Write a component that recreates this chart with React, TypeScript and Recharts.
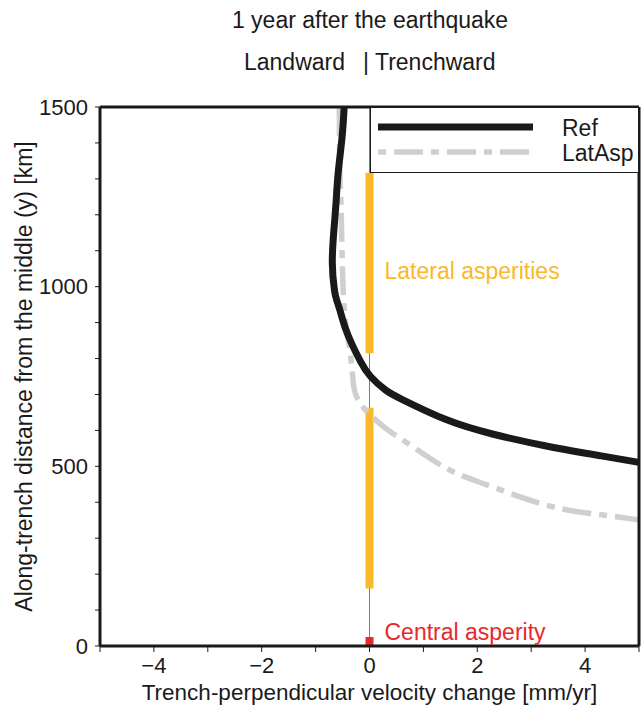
import {
  ComposedChart,
  Legend,
  Line,
  ReferenceDot,
  ReferenceLine,
  XAxis,
  YAxis,
} from "recharts";

// along-trench distance [km] and velocity change [mm/yr]
const refY = [1500, 1414, 1319, 1236, 1158, 1066, 990, 963, 935, 885, 838, 790, 750, 712, 685, 630, 590, 556, 529, 511];
const refV = [-0.47, -0.51, -0.58, -0.62, -0.66, -0.69, -0.65, -0.61, -0.55, -0.45, -0.32, -0.16, 0.02, 0.3, 0.62, 1.42, 2.28, 3.3, 4.3, 5.0];

const latY = [1500, 1319, 1236, 1102, 963, 885, 829, 780, 746, 707, 676, 645, 600, 565, 495, 450, 392, 365, 351];
const latV = [-0.56, -0.55, -0.53, -0.51, -0.48, -0.43, -0.37, -0.33, -0.31, -0.27, -0.17, 0.0, 0.35, 0.7, 1.42, 2.15, 3.28, 4.3, 5.0];

// asperity extents along the trench [km]
const lateralUpper = [815, 1317];
const lateralLower = [160, 663];
const central = [0, 25];

const xTicks = [-5, -4, -3, -2, -1, 0, 1, 2, 3, 4, 5];
const yTicks = [0, 100, 200, 300, 400, 500, 600, 700, 800, 900, 1000, 1100, 1200, 1300, 1400, 1500];
const yLabelled = [0, 500, 1000, 1500];

const refData = refY.map((y, i) => ({ y, v: refV[i] }));
const latData = latY.map((y, i) => ({ y, v: latV[i] }));

const INK = "#1a1a1a";
const ORANGE = "#fbb829";
const RED = "#e8282e";
const GREY = "#cfcfcf";
const DASH = "29 8 8 8";
const FONT = "'Liberation Sans', Arial, Helvetica, sans-serif";

const fmtX = (v: number) => (v % 2 !== 0 ? "" : v < 0 ? `\u2212${-v}` : `${v}`);
const fmtY = (v: number) => (yLabelled.includes(v) ? `${v}` : "");

const tickStyle = { fontSize: 22, fill: INK, fontFamily: FONT };
const axisLine = { stroke: INK, strokeWidth: 3 };
const tickLine = { stroke: INK, strokeWidth: 1 };

function LegendBox() {
  return (
    <div
      style={{
        width: 269,
        height: 66,
        boxSizing: "border-box",
        border: `1.5px solid ${INK}`,
        background: "#fff",
      }}
    >
      <svg width={266} height={63} style={{ display: "block" }}>
        <line x1={7} x2={162} y1={19} y2={19} stroke={INK} strokeWidth={7} />
        <line
          x1={7}
          x2={162}
          y1={44}
          y2={44}
          stroke={GREY}
          strokeWidth={5.5}
          strokeDasharray={DASH}
          strokeDashoffset={37}
        />
        <text x={191} y={28} fontSize={23} fill={INK} fontFamily={FONT}>
          Ref
        </text>
        <text x={191} y={53} fontSize={23} fill={INK} fontFamily={FONT}>
          LatAsp
        </text>
      </svg>
    </div>
  );
}

export default function App() {
  return (
    <div
      style={{
        position: "absolute",
        left: 0,
        top: 0,
        width: 643,
        height: 707,
        fontFamily: FONT,
        color: INK,
        background: "#fff",
      }}
    >
      <div
        style={{
          position: "absolute",
          left: 370,
          top: 9,
          transform: "translateX(-50%)",
          fontSize: 23,
          lineHeight: "23px",
          whiteSpace: "nowrap",
        }}
      >
        1 year after the earthquake
      </div>
      <div
        style={{
          position: "absolute",
          right: 643 - 345,
          top: 51,
          fontSize: 23,
          lineHeight: "23px",
          whiteSpace: "nowrap",
        }}
      >
        Landward
      </div>
      <div
        style={{
          position: "absolute",
          left: 363,
          top: 51,
          fontSize: 23,
          lineHeight: "23px",
          whiteSpace: "nowrap",
        }}
      >
        | Trenchward
      </div>
      <ComposedChart
        width={643}
        height={707}
        margin={{ top: 0, right: 0, bottom: 0, left: 0 }}
        style={{ fontFamily: FONT }}
      >
        <XAxis
          xAxisId="b"
          type="number"
          dataKey="v"
          domain={[-5, 5]}
          ticks={xTicks}
          tickFormatter={fmtX}
          height={61}
          tick={tickStyle}
          tickSize={6}
          tickMargin={5}
          axisLine={axisLine}
          tickLine={tickLine}
          interval={0}
          label={{
            value: "Trench-perpendicular velocity change [mm/yr]",
            position: "insideBottom",
            offset: 7,
            fontSize: 22.5,
            fill: INK,
          }}
        />
        <XAxis
          xAxisId="t"
          type="number"
          orientation="top"
          domain={[-5, 5]}
          ticks={xTicks}
          tickFormatter={fmtX}
          height={107}
          tick={tickStyle}
          tickSize={6}
          tickMargin={5}
          axisLine={axisLine}
          tickLine={tickLine}
          interval={0}
        />
        <YAxis
          yAxisId="l"
          type="number"
          domain={[0, 1500]}
          ticks={yTicks}
          tickFormatter={fmtY}
          width={100}
          tick={tickStyle}
          tickSize={5}
          tickMargin={7}
          axisLine={axisLine}
          tickLine={tickLine}
          interval={0}
          label={{
            value: "Along-trench distance from the middle (y) [km]",
            angle: -90,
            position: "insideLeft",
            offset: 24,
            fontSize: 23,
            fill: INK,
            style: { textAnchor: "middle" },
          }}
        />
        <YAxis
          yAxisId="r"
          type="number"
          orientation="right"
          domain={[0, 1500]}
          ticks={yTicks}
          tickFormatter={() => ""}
          width={4}
          tickSize={4}
          axisLine={axisLine}
          tickLine={tickLine}
          interval={0}
        />

        <ReferenceLine xAxisId="b" yAxisId="l" x={0} stroke="#7a7a7a" strokeWidth={1} />
        <ReferenceLine
          xAxisId="b"
          yAxisId="l"
          segment={[
            { x: 0, y: lateralUpper[0] },
            { x: 0, y: lateralUpper[1] },
          ]}
          stroke={ORANGE}
          strokeWidth={8}
        />
        <ReferenceLine
          xAxisId="b"
          yAxisId="l"
          segment={[
            { x: 0, y: lateralLower[0] },
            { x: 0, y: lateralLower[1] },
          ]}
          stroke={ORANGE}
          strokeWidth={8}
        />
        <ReferenceLine
          xAxisId="b"
          yAxisId="l"
          segment={[
            { x: 0, y: central[0] },
            { x: 0, y: central[1] },
          ]}
          stroke={RED}
          strokeWidth={8}
        />
        <ReferenceDot
          xAxisId="b"
          yAxisId="l"
          x={0}
          y={1044}
          r={0}
          fill="none"
          stroke="none"
          label={{ value: "Lateral asperities", position: "right", offset: 15, fontSize: 23, fill: ORANGE }}
        />
        <ReferenceDot
          xAxisId="b"
          yAxisId="l"
          x={0}
          y={39}
          r={0}
          fill="none"
          stroke="none"
          label={{ value: "Central asperity", position: "right", offset: 15, fontSize: 23, fill: RED }}
        />

        <Line
          xAxisId="b"
          yAxisId="l"
          name="LatAsp"
          data={latData}
          dataKey="y"
          type="natural"
          stroke={GREY}
          strokeWidth={5.5}
          strokeDasharray={DASH}
          dot={false}
          activeDot={false}
          isAnimationActive={false}
        />
        <Line
          xAxisId="b"
          yAxisId="l"
          name="Ref"
          data={refData}
          dataKey="y"
          type="natural"
          stroke={INK}
          strokeWidth={7}
          dot={false}
          activeDot={false}
          isAnimationActive={false}
        />

        <Legend
          layout="vertical"
          align="center"
          verticalAlign="middle"
          content={() => <LegendBox />}
          wrapperStyle={{ position: "absolute", left: 370, top: 107, width: 269, height: 66 }}
        />
      </ComposedChart>
    </div>
  );
}
